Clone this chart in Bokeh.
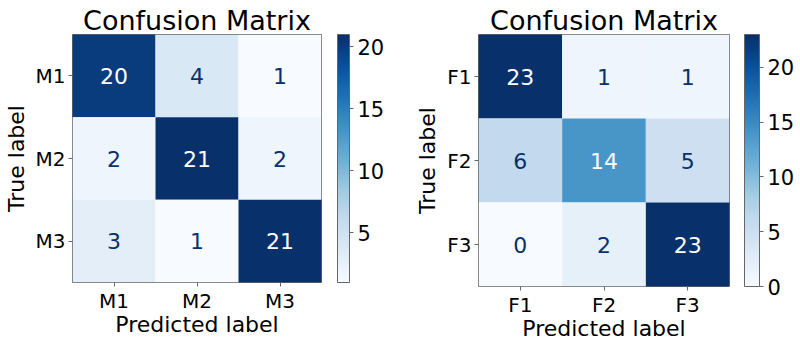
from bokeh.plotting import figure
from bokeh.layouts import row
from bokeh.models import LinearColorMapper, ColorBar, FixedTicker, ColumnDataSource, FactorRange
from bokeh.palettes import Blues256
from bokeh.embed import file_html
from bokeh.resources import INLINE
from bokeh.core.properties import value

# ---- data ----
left_labels = ["M1", "M2", "M3"]
left_matrix = [[20, 4, 1],
               [2, 21, 2],
               [3, 1, 21]]
left_cbar_ticks = [5, 10, 15, 20]

right_labels = ["F1", "F2", "F3"]
right_matrix = [[23, 1, 1],
                [6, 14, 5],
                [0, 2, 23]]
right_cbar_ticks = [0, 5, 10, 15, 20]

title_text = "Confusion Matrix"
x_label = "Predicted label"
y_label = "True label"

FONT = "DejaVu Sans"
palette = list(reversed(Blues256))
EDGE = "#666666"


def make(labels, matrix, ticks, frame_w, frame_h, bl, br, bt, bb, bar_w, bar_gap):
    xs, ys, vals = [], [], []
    for i, r in enumerate(matrix):
        for j, v in enumerate(r):
            ys.append(labels[i])
            xs.append(labels[j])
            vals.append(v)
    lo, hi = min(vals), max(vals)
    thresh = (lo + hi) / 2.0
    tcolors = ["#ffffff" if v >= thresh else palette[-1] for v in vals]
    src = ColumnDataSource(dict(x=xs, y=ys, v=vals, t=[str(v) for v in vals], tc=tcolors))
    mapper = LinearColorMapper(palette=palette, low=lo, high=hi)

    p = figure(x_range=FactorRange(*labels), y_range=FactorRange(*labels[::-1]),
               frame_width=frame_w, frame_height=frame_h,
               min_border_left=bl, min_border_right=br, min_border_top=bt, min_border_bottom=bb,
               output_backend="svg", toolbar_location=None, title=title_text)
    p.rect(x="x", y="y", width=1, height=1, source=src,
           fill_color={"field": "v", "transform": mapper}, line_color=None)
    p.text(x="x", y="y", text="t", source=src, text_color="tc",
           text_align="center", text_baseline="middle",
           text_font=value(FONT), text_font_size="22px")

    p.title.text_font = FONT
    p.title.text_font_size = "27px"
    p.title.text_font_style = "normal"
    p.title.text_color = "#000000"
    p.title.align = "center"
    p.title.standoff = -8
    p.title.offset = 0
    p.title.padding = 3

    p.grid.visible = False
    p.outline_line_color = EDGE
    p.outline_line_width = 1
    for ax in (p.xaxis[0], p.yaxis[0]):
        ax.axis_line_color = None
        ax.major_tick_in = 0
        ax.major_tick_out = 4
        ax.major_tick_line_color = EDGE
        ax.major_label_text_font = FONT
        ax.major_label_text_font_size = "20px"
        ax.major_label_text_color = "#000000"
        ax.axis_label_text_font = FONT
        ax.axis_label_text_font_size = "22px"
        ax.axis_label_text_font_style = "normal"
        ax.axis_label_text_color = "#000000"
        ax.major_label_standoff = 3
    p.xaxis[0].major_label_standoff = 2
    p.xaxis[0].axis_label_standoff = -4
    p.yaxis[0].axis_label_standoff = 4
    p.xaxis.axis_label = x_label
    p.yaxis.axis_label = y_label

    # invisible spacer bar giving the gap between the matrix and its colour bar
    gap = ColorBar(color_mapper=mapper, ticker=FixedTicker(ticks=[]), width=bar_gap,
                   padding=0, scale_alpha=0.0, bar_line_color=None,
                   major_tick_line_color=None, major_label_text_alpha=0.0,
                   border_line_color=None, background_fill_color=None)
    p.add_layout(gap, "right")

    cb = ColorBar(color_mapper=mapper, ticker=FixedTicker(ticks=ticks), width=bar_w,
                  padding=0,
                  major_label_text_font=FONT, major_label_text_font_size="21px",
                  major_label_text_color="#000000",
                  major_tick_in=0, major_tick_out=4, major_tick_line_color=EDGE,
                  bar_line_color=EDGE, bar_line_width=1, label_standoff=4,
                  border_line_color=None, background_fill_color=None)
    p.add_layout(cb, "right")
    return p


p1 = make(left_labels, left_matrix, left_cbar_ticks, 249, 248, 64, 77, 34, 49, 12, 16)
p2 = make(right_labels, right_matrix, right_cbar_ticks, 251, 252, 80, 63, 29, 50, 15, 15)

layout = row(p1, p2, spacing=0)
open("out.html", "w").write(file_html(layout, INLINE))
